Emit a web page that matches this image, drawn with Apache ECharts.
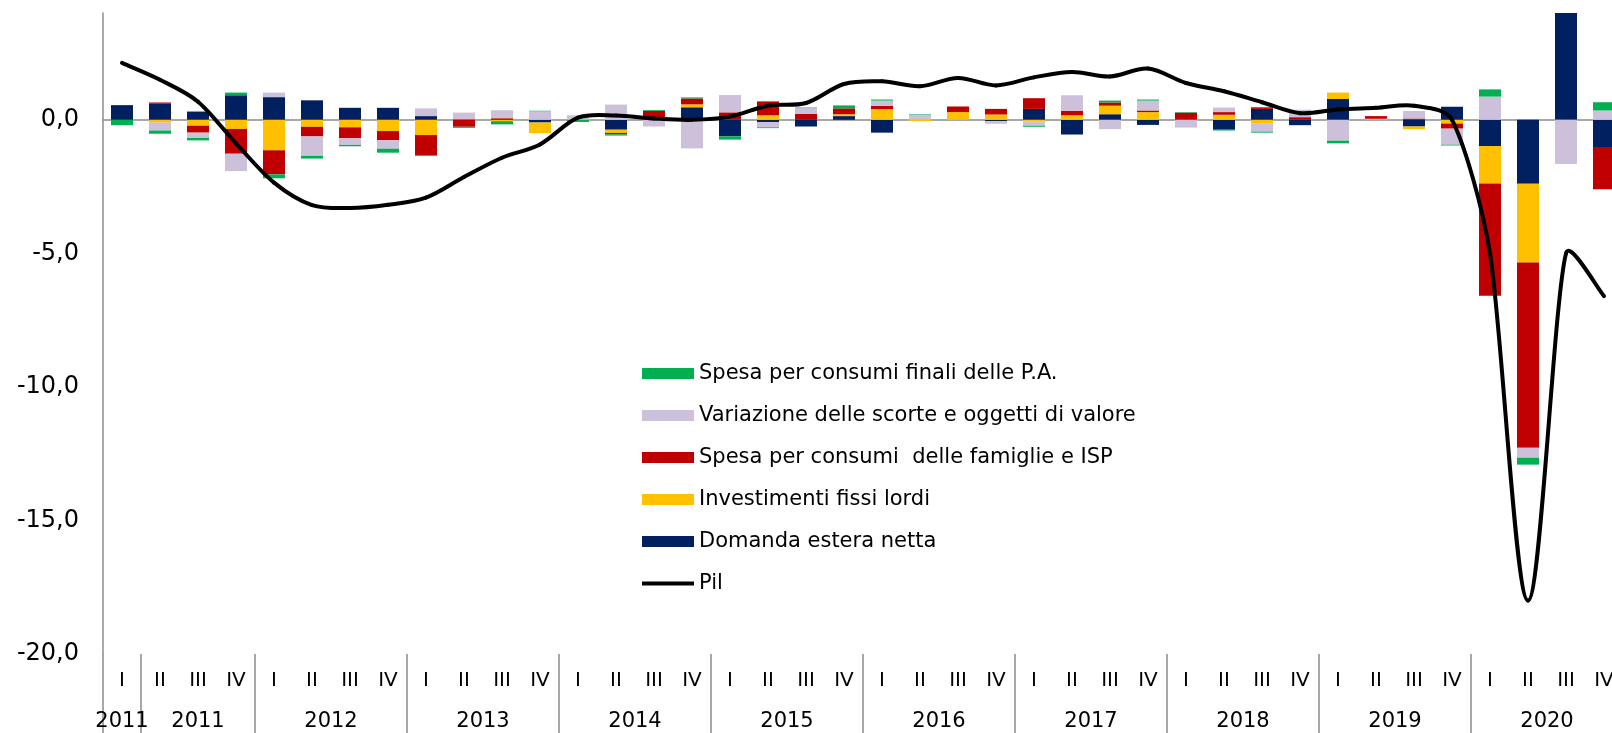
<!DOCTYPE html>
<html>
<head>
<meta charset="utf-8">
<title>Contributi alla crescita del Pil</title>
<script src="https://cdn.jsdelivr.net/npm/echarts@6/dist/echarts.min.js"></script>
<style>
  html, body { margin: 0; padding: 0; background: #fff; }
  #chart { width: 1612px; height: 733px; }
</style>
</head>
<body>
<div id="chart"></div>
<script>
// trimestri 2011 I - 2020 IV
var anni = ['2011','2012','2013','2014','2015','2016','2017','2018','2019','2020'];
var trimestri = ['I','II','III','IV'];

// etichette degli anni sotto l'asse e quanti trimestri coprono
var yearLabels = ['2011','2011','2012','2013','2014','2015','2016','2017','2018','2019','2020'];
var yearSpans  = [1, 3, 4, 4, 4, 4, 4, 4, 4, 4, 4];

// contributi (punti percentuali)
var domandaEstera = [0.55, 0.6, 0.31, 0.92, 0.85, 0.73, 0.45, 0.45, 0.14, 0.02,
                     0, -0.1, 0, -0.37, 0, 0.47, -0.62, -0.08, -0.25, 0.14,
                     -0.48, 0, 0, -0.05, 0.41, -0.55, 0.21, -0.19, 0, -0.37,
                     0.41, -0.2, 0.78, 0, -0.25, 0.49, -0.98, -2.39, 4.6, -1.02];
var investimenti  = [0, -0.1, -0.22, -0.34, -1.14, -0.26, -0.28, -0.42, -0.57, 0,
                     -0.05, -0.4, 0, -0.12, 0.07, 0.11, 0, 0.17, 0, 0.07,
                     0.4, -0.05, 0.29, 0.2, -0.05, 0.17, 0.32, 0.29, 0, 0.19,
                     -0.14, 0, 0.24, 0.04, -0.1, -0.14, -1.4, -2.95, 0, 0];
var consumiFam    = [0, 0.05, -0.26, -0.93, -0.9, -0.36, -0.41, -0.34, -0.77, -0.26,
                     0.06, 0, 0, -0.05, 0.27, 0.22, 0.28, 0.52, 0.22, 0.22,
                     0.12, 0, 0.21, 0.21, 0.4, 0.17, 0.12, 0.06, 0.27, 0.1,
                     0.06, 0.1, 0, 0.1, 0.05, -0.19, -4.21, -6.94, 0, -1.58];
var scorte        = [0, -0.3, -0.2, -0.65, 0.17, -0.73, -0.25, -0.32, 0.29, 0.25,
                     0.3, 0.32, 0.17, 0.57, -0.25, -1.07, 0.65, -0.2, 0.22, 0,
                     0.2, 0.2, 0, -0.1, -0.17, 0.58, -0.35, 0.37, -0.29, 0.17,
                     -0.3, 0.28, -0.78, 0, 0.28, -0.6, 0.87, -0.37, -1.65, 0.35];
var consumiPA     = [-0.2, -0.12, -0.09, 0.1, -0.15, -0.1, -0.05, -0.15, 0, -0.04,
                     -0.12, 0.02, -0.08, -0.05, 0.03, 0.04, -0.12, -0.03, 0.02, 0.11,
                     0.04, 0.02, 0, 0, -0.04, 0, 0.07, 0.04, 0.02, -0.03,
                     -0.04, 0, -0.1, 0, 0, -0.03, 0.27, -0.26, 0, 0.31];
var pil           = [2.13, 1.5, 0.68, -0.88, -2.35, -3.19, -3.3, -3.18, -2.91, -2.14,
                     -1.42, -0.92, 0.08, 0.16, 0.05, 0.0, 0.12, 0.53, 0.63, 1.34,
                     1.44, 1.26, 1.57, 1.29, 1.59, 1.79, 1.62, 1.92, 1.38, 1.07,
                     0.66, 0.25, 0.39, 0.45, 0.53, 0.0, -5.0, -18.0, -5.0, -6.6];

var categorie = [];
anni.forEach(function (a) {
  trimestri.forEach(function (t) { categorie.push(a + ' ' + t); });
});

// posizione centrale di ogni etichetta anno (in unità di trimestre)
var yearPos = {};
var acc = 0;
yearSpans.forEach(function (s, i) {
  yearPos[(acc + s / 2).toFixed(1)] = yearLabels[i];
  acc += s;
});

var nomi = {
  pa: 'Spesa per consumi finali delle P.A.',
  sc: 'Variazione delle scorte e oggetti di valore',
  fam: 'Spesa per consumi  delle famiglie e ISP',
  inv: 'Investimenti fissi lordi',
  est: 'Domanda estera netta',
  pil: 'Pil'
};

var myChart = echarts.init(document.getElementById('chart'));

function barra(nome, dati, colore) {
  return {
    name: nome,
    type: 'bar',
    stack: 'totale',
    barWidth: 22,
    itemStyle: { color: colore },
    data: dati
  };
}

// linea smussata tipo Excel: un tratto di bezier per ogni coppia di trimestri
function puntoPil(api, j) {
  j = Math.max(0, Math.min(pil.length - 1, j));
  return api.coord([j, pil[j]]);
}
function dist(a, b) {
  return Math.sqrt((a[0] - b[0]) * (a[0] - b[0]) + (a[1] - b[1]) * (a[1] - b[1]));
}
// maniglie (entrata, uscita) nel punto j
function maniglie(api, j) {
  var p0 = puntoPil(api, j - 1), p1 = puntoPil(api, j), p2 = puntoPil(api, j + 1);
  var t = [(p2[0] - p0[0]) / 6, (p2[1] - p0[1]) / 6];
  var dp = dist(p0, p1), dn = dist(p1, p2), s = dp + dn || 1;
  var fin = Math.min(1, 2 * dp / s), fout = Math.min(1, 2 * dn / s);
  return {
    inn: [p1[0] - t[0] * fin, p1[1] - t[1] * fin],
    out: [p1[0] + t[0] * fout, p1[1] + t[1] * fout]
  };
}
function renderPil(params, api) {
  var i = params.dataIndex;
  if (i >= pil.length - 1) return null;
  var a = puntoPil(api, i), b = puntoPil(api, i + 1);
  var c1 = maniglie(api, i).out, c2 = maniglie(api, i + 1).inn;
  return {
    type: 'bezierCurve',
    shape: { x1: a[0], y1: a[1], cpx1: c1[0], cpy1: c1[1], cpx2: c2[0], cpy2: c2[1], x2: b[0], y2: b[1] },
    style: { stroke: '#000', lineWidth: 4, fill: 'none', lineCap: 'round' }
  };
}

var option = {
  animation: false,
  textStyle: { fontFamily: 'DejaVu Sans', color: '#000' },
  grid: { left: 103, right: -11, top: 13, bottom: 79, containLabel: false, outerBoundsMode: 'none' },
  legend: {
    orient: 'vertical',
    left: 637,
    top: 358,
    itemWidth: 52,
    itemHeight: 11,
    itemGap: 21,
    textStyle: { fontSize: 21, color: '#000', fontFamily: 'DejaVu Sans' },
    data: [
      { name: nomi.pa, icon: 'rect' },
      { name: nomi.sc, icon: 'rect' },
      { name: nomi.fam, icon: 'rect' },
      { name: nomi.inv, icon: 'rect' },
      { name: nomi.est, icon: 'rect' },
      { name: nomi.pil, icon: 'path://M0,0 L0,0 M0,3.5 L52,3.5 L52,7.5 L0,7.5 Z M52,11 L52,11', itemStyle: { color: '#000' } }
    ]
  },
  xAxis: [
    {
      // linea dello zero
      type: 'category',
      data: categorie,
      axisLine: { onZero: true, lineStyle: { color: '#8c8c8c', width: 1.5 } },
      axisTick: { show: false },
      axisLabel: { show: false }
    },
    {
      // trimestri e separatori degli anni
      type: 'category',
      data: categorie,
      position: 'bottom',
      axisLine: { show: false, onZero: false },
      axisTick: {
        show: true,
        length: 80,
        interval: function (i) { return i === 0 || i === 1 || i % 4 === 0; },
        lineStyle: { color: '#8c8c8c', width: 1.5 }
      },
      axisLabel: {
        interval: 0,
        margin: 17,
        fontSize: 20,
        color: '#000',
        formatter: function (v) { return v.split(' ')[1]; }
      }
    },
    {
      // anni
      type: 'value',
      min: 0,
      max: categorie.length,
      interval: 0.5,
      position: 'bottom',
      axisLine: { show: false, onZero: false },
      axisTick: { show: false },
      splitLine: { show: false },
      axisLabel: {
        margin: 57,
        fontSize: 21,
        color: '#000',
        formatter: function (v) { return yearPos[v.toFixed(1)] || ''; }
      }
    }
  ],
  yAxis: {
    type: 'value',
    min: -20,
    max: 4,
    interval: 5,
    axisLine: { show: true, lineStyle: { color: '#8c8c8c', width: 1.5 } },
    axisTick: { show: false },
    splitLine: { show: false },
    axisLabel: {
      showMaxLabel: false,
      margin: 24,
      fontSize: 24,
      color: '#000',
      formatter: function (v) { return v.toFixed(1).replace('.', ','); }
    }
  },
  series: [
    barra(nomi.est, domandaEstera, '#002060'),
    barra(nomi.inv, investimenti, '#FFC000'),
    barra(nomi.fam, consumiFam, '#C00000'),
    barra(nomi.sc, scorte, '#CCC0DA'),
    barra(nomi.pa, consumiPA, '#00B050'),
    {
      name: nomi.pil,
      type: 'custom',
      renderItem: renderPil,
      encode: { x: 0, y: 1 },
      z: 5,
      itemStyle: { color: '#000' },
      data: pil.map(function (v, i) { return [i, v]; })
    }
  ]
};

myChart.setOption(option);
window.addEventListener('resize', function () { myChart.resize(); });
</script>
</body>
</html>
